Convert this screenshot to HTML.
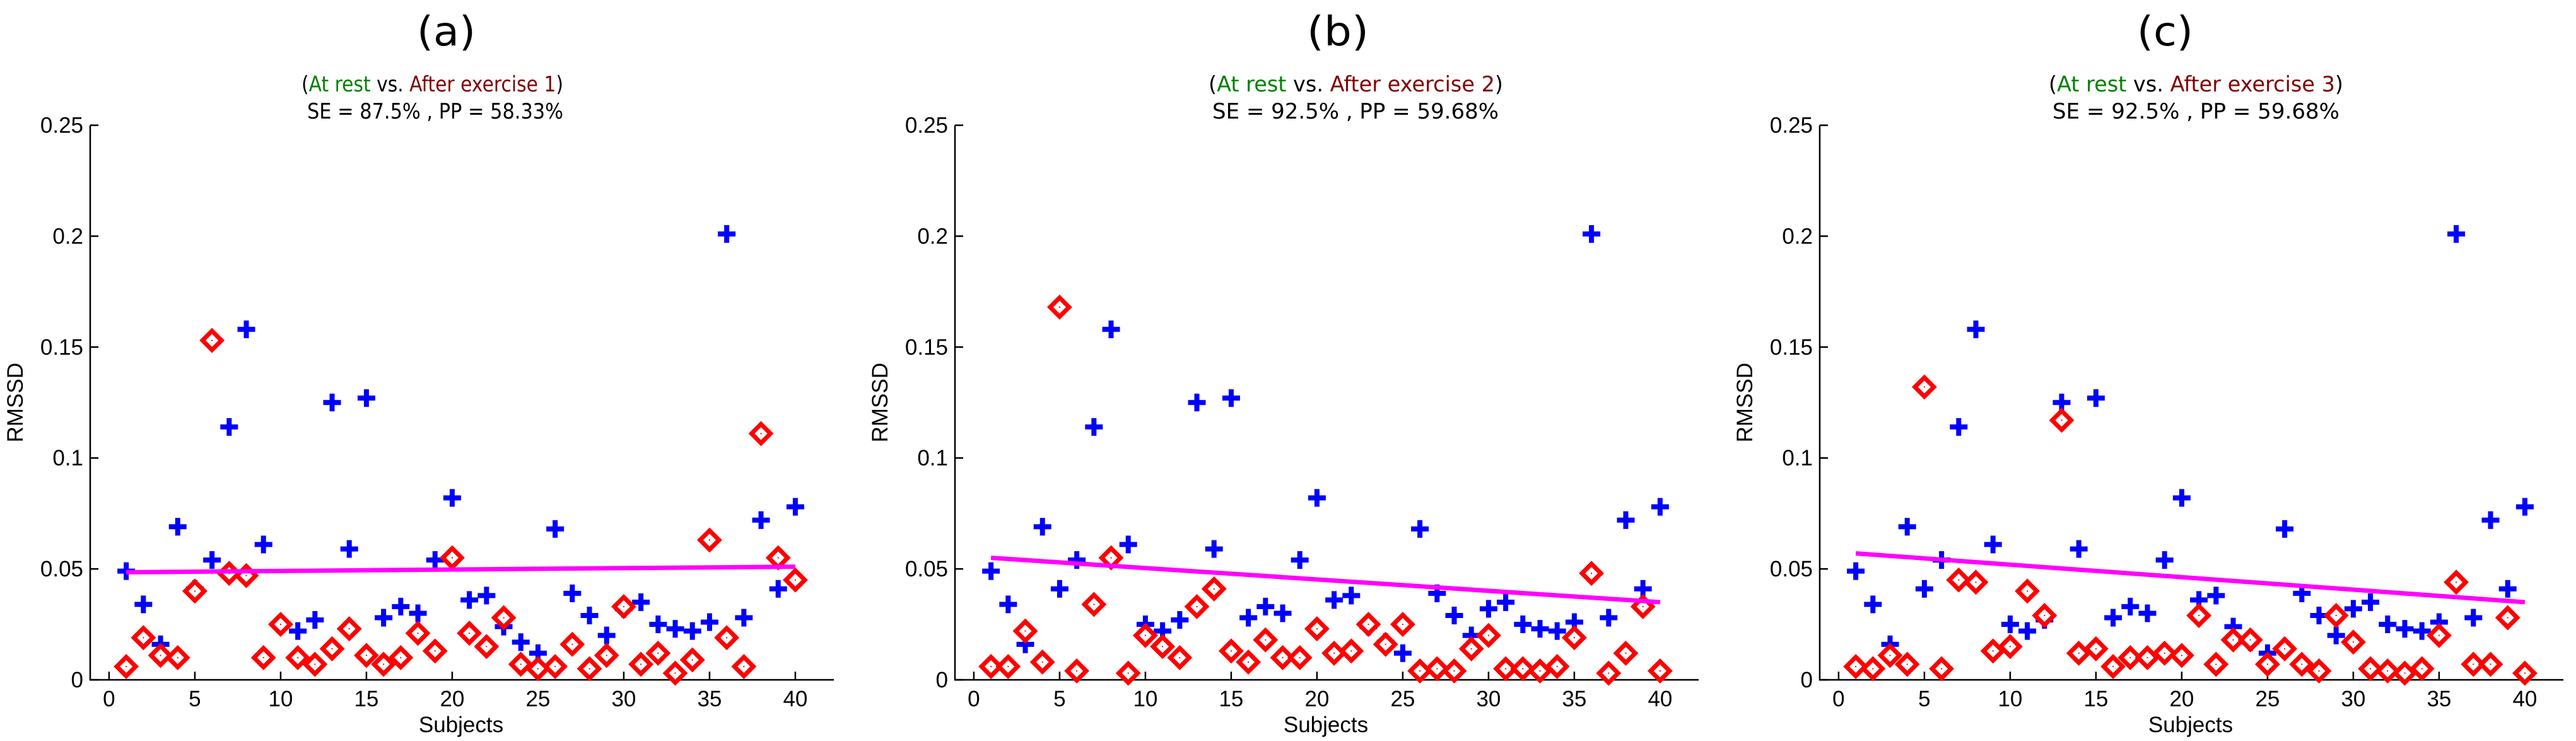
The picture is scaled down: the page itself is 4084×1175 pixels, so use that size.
<!DOCTYPE html>
<html><head><meta charset="utf-8"><style>
html,body{margin:0;padding:0;background:#fff;}
svg{display:block;}
text{font-family:"Liberation Sans",sans-serif;white-space:pre;}
.sub{font-family:"DejaVu Sans","Liberation Sans",sans-serif;font-size:34px;}
</style></head><body>
<svg id="chart" width="4084" height="1175" viewBox="0 0 4084 1175" xmlns="http://www.w3.org/2000/svg"></svg>
<script>
const subjects = [1,2,3,4,5,6,7,8,9,10,11,12,13,14,15,16,17,18,19,20,21,22,23,24,25,26,27,28,29,30,31,32,33,34,35,36,37,38,39,40];
const restValues = [0.049,0.034,0.016,0.069,0.041,0.054,0.114,0.158,0.061,0.025,0.022,0.027,0.125,0.059,0.127,0.028,0.033,0.030,0.054,0.082,0.036,0.038,0.024,0.017,0.012,0.068,0.039,0.029,0.020,0.032,0.035,0.025,0.023,0.022,0.026,0.201,0.028,0.072,0.041,0.078];
const ex1Values = [0.006,0.019,0.011,0.010,0.040,0.153,0.048,0.047,0.010,0.025,0.010,0.007,0.014,0.023,0.011,0.007,0.010,0.021,0.013,0.055,0.021,0.015,0.028,0.007,0.005,0.006,0.016,0.005,0.011,0.033,0.007,0.012,0.003,0.009,0.063,0.019,0.006,0.111,0.055,0.045];
const ex2Values = [0.006,0.006,0.022,0.008,0.168,0.004,0.034,0.055,0.003,0.020,0.015,0.010,0.033,0.041,0.013,0.008,0.018,0.010,0.010,0.023,0.012,0.013,0.025,0.016,0.025,0.004,0.005,0.004,0.014,0.020,0.005,0.005,0.004,0.006,0.019,0.048,0.003,0.012,0.033,0.004];
const ex3Values = [0.006,0.005,0.011,0.007,0.132,0.005,0.045,0.044,0.013,0.015,0.040,0.029,0.117,0.012,0.014,0.006,0.010,0.010,0.012,0.011,0.029,0.007,0.018,0.018,0.007,0.014,0.007,0.004,0.029,0.017,0.005,0.004,0.003,0.005,0.020,0.044,0.007,0.007,0.028,0.003];
const trend1 = [0.0485,0.051];
const trend2 = [0.055,0.035];
const trend3 = [0.057,0.035];
const xTicks = [0,5,10,15,20,25,30,35,40];
const yTicks = [0,0.05,0.1,0.15,0.2,0.25];
const yTickLabels = ["0","0.05","0.1","0.15","0.2","0.25"];
const panelLetters = ["(a)","(b)","(c)"];
const exerciseNames = ["After exercise 1","After exercise 2","After exercise 3"];
const statsLabels = ["SE = 87.5% , PP = 58.33%","SE = 92.5% , PP = 59.68%","SE = 92.5% , PP = 59.68%"];

var NS="http://www.w3.org/2000/svg";
var svg=document.getElementById('chart');
function mk(tag,attrs,parent){var e=document.createElementNS(NS,tag);for(var k in attrs){e.setAttribute(k,String(attrs[k]));}(parent||svg).appendChild(e);return e;}

var panels=[
 {left:143,red:ex1Values,trend:trend1,title:[661,754],l1:[478,893],l2:[487,893]},
 {left:1514,red:ex2Values,trend:trend2,title:[2072,2170],l1:[1916,2383],l2:[1922,2376]},
 {left:2885,red:ex3Values,trend:trend3,title:[3388,3477],l1:[3248,3715],l2:[3254,3709]}
];
var PW=1179, yBottom=1078, yTop=198.6, XMIN=-1.1, XMAX=XMIN+PW/27.2, YMAX=0.25;

panels.forEach(function(p,pi){
 try{
 var g=mk('g',{});
 
 
 var xs=function(v){return p.left+(v-XMIN)/(XMAX-XMIN)*PW;};
 var ys=function(v){return yBottom-v/YMAX*(yBottom-yTop);};
 var t=mk('text',{x:p.title[0],y:72,'class':'sub',textLength:p.title[1]-p.title[0],lengthAdjust:'spacingAndGlyphs'},g);
 t.style.fontSize='64px';
 t.textContent=panelLetters[pi];
 
 
 var s1=mk('text',{x:p.l1[0],y:145,'class':'sub',textLength:p.l1[1]-p.l1[0],lengthAdjust:'spacingAndGlyphs'},g);
 
 
 var parts=[["(","#000"],["At rest","#008000"],[" vs. ","#000"],[exerciseNames[pi],"#800000"],[")","#000"]];
 parts.forEach(function(pt){var ts=mk('tspan',{fill:pt[1]},s1);ts.textContent=pt[0];});
 var s2=mk('text',{x:p.l2[0],y:188,'class':'sub',textLength:p.l2[1]-p.l2[0],lengthAdjust:'spacingAndGlyphs'},g);
 s2.textContent=statsLabels[pi];
 
 
 var ax=mk('path',{d:'M'+p.left+','+yTop+' V'+yBottom+' H'+(p.left+PW),stroke:'#000','stroke-width':2.5,fill:'none'},g);
 
 
 yTicks.forEach(function(v,i){
  mk('line',{x1:p.left,x2:p.left+13,y1:ys(v),y2:ys(v),stroke:'#000','stroke-width':2.5},g);
  var tl=mk('text',{x:p.left-11,y:ys(v)+12,'font-size':35,'text-anchor':'end'},g);
  tl.textContent=yTickLabels[i];
  
  
 });
 xTicks.forEach(function(v){
  mk('line',{x1:xs(v),x2:xs(v),y1:yBottom,y2:yBottom-13,stroke:'#000','stroke-width':2.5},g);
  var tl=mk('text',{x:xs(v),y:1120,'font-size':35,'text-anchor':'middle'},g);
  tl.textContent=String(v);
  
  
 });
 var xl=mk('text',{x:p.left+588,y:1161,'font-size':35,'text-anchor':'middle'},g);
 xl.textContent='Subjects';
 
 
 var yx=p.left-107, yy=(yTop+yBottom)/2;
 var yl=mk('text',{x:yx,y:yy,'font-size':35,'text-anchor':'middle',transform:'rotate(-90 '+yx+' '+yy+')'},g);
 yl.textContent='RMSSD';
 
 
 subjects.forEach(function(s,i){
  var cx=xs(s), cy=ys(restValues[i]);
  var m=mk('path',{d:'M'+(cx-14)+','+cy+' H'+(cx+14)+' M'+cx+','+(cy-14)+' V'+(cy+14),stroke:'#0000ff','stroke-width':8,fill:'none'},g);
  
  
 });
 subjects.forEach(function(s,i){
  var cx=xs(s), cy=ys(p.red[i]);
  var m=mk('path',{d:'M'+cx+','+(cy-15)+' L'+(cx+15)+','+cy+' L'+cx+','+(cy+15)+' L'+(cx-15)+','+cy+' Z',stroke:'#ff0000','stroke-width':7,fill:'#fff'},g);
  
  
  mk('rect',{x:cx-1,y:cy-1,width:2,height:2,fill:'#ff0000'},g);
 });
 var tr=mk('line',{x1:xs(1),y1:ys(p.trend[0]),x2:xs(40),y2:ys(p.trend[1]),stroke:'#ff00ff','stroke-width':7},g);
 
 
 }catch(err){}
});
</script>
</body></html>
